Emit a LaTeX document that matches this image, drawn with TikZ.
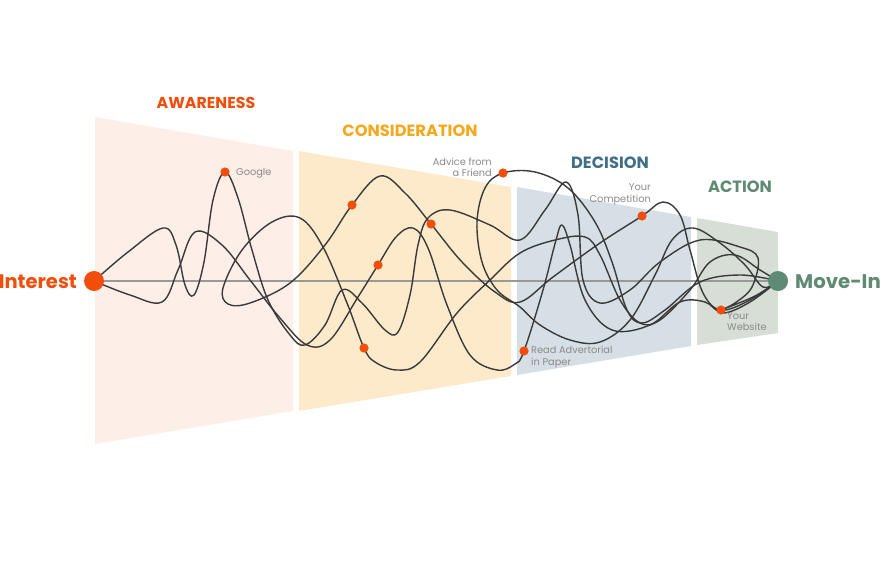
\documentclass[tikz,border=0pt]{standalone}
\usepackage{fontspec}
\setmainfont{Poppins}
\definecolor{orng}{HTML}{F24E0B}
\definecolor{consc}{HTML}{F5A81C}
\definecolor{decc}{HTML}{3E6F86}
\definecolor{actc}{HTML}{5F8A73}
\definecolor{pawa}{HTML}{FDEEE8}
\definecolor{pcon}{HTML}{FCEACB}
\definecolor{pdec}{HTML}{D5DFE5}
\definecolor{pact}{HTML}{D6DED6}
\definecolor{strand}{HTML}{3A3A3A}
\definecolor{lbl}{HTML}{8A8A8A}
\tikzset{
  strandline/.style={draw=strand, line width=1.4pt, line join=round},
  touch/.style={fill=orng},
  header/.style={font=\fontsize{16.3}{17}\selectfont\bfseries, anchor=center},
  small/.style={font=\fontsize{9.8}{11.5}\selectfont, text=lbl, inner sep=0pt, align=left},
}
\begin{document}
\begin{tikzpicture}[x=1pt,y=-1pt]
\useasboundingbox (0,0) rectangle (885,570);
% panels
\fill[pawa] (95,117) -- (293,151) -- (293,411) -- (95,444) -- cycle;
\fill[pcon] (299,151) -- (511,187) -- (511,376) -- (299,411) -- cycle;
\fill[pdec] (517,187) -- (691,217) -- (691,346) -- (517,375) -- cycle;
\fill[pact] (697,218) -- (778,232) -- (778,333) -- (697,345) -- cycle;
% headers
\node[header, text=orng, font=\fontsize{15.8}{17}\selectfont\bfseries] (hawa) at (206,103) {AWARENESS};
\node[header, text=consc] (hcon) at (410,131) {CONSIDERATION};
\node[header, text=decc] (hdec) at (610,163) {DECISION};
\node[header, text=actc] (hact) at (740,187) {ACTION};
% endpoints
\coordinate (int) at (94,281);
\coordinate (mov) at (778,281);
\draw[draw=gray!80, line width=1.4pt] (int) -- (mov);
% touch points
\coordinate (google) at (225,172);
\coordinate (c1) at (352,205);
\coordinate (c2) at (378,265);
\coordinate (c3) at (431,224);
\coordinate (c4) at (364,348);
\coordinate (advice) at (503,173);
\coordinate (comp) at (642,216);
\coordinate (read) at (524,351);
\coordinate (web) at (721,310);
% strands
\draw[strandline] plot[smooth, tension=0.6] coordinates {(int) (128,252) (163,228) (176,245) (185,285) (194,295) (204,262) (213,200) (google) (238,198) (252,250) (268,300) (290,335) (305,345) (325,325) (342,290) (362,303) (385,330) (398,332) (410,295) (418,245) (428,218) (450,210) (490,225) (520,240) (545,210) (566,182) (578,215) (583,280) (600,303) (630,290) (660,262) (700,240) (740,247) (758,258) (752,287) (735,303) (web) (755,296) (mov)};
\draw[strandline] plot[smooth, tension=0.6] coordinates {(int) (130,295) (162,302) (178,270) (195,232) (222,245) (250,280) (280,318) (307,345) (330,340) (358,297) (c2) (396,237) (413,228) (428,248) (447,305) (470,355) (497,370) (515,364) (read) (543,290) (556,240) (562,225) (570,245) (585,300) (612,330) (650,325) (680,302) (705,302) (723,313) (750,302) (mov)};
\draw[strandline] plot[smooth, tension=0.6] coordinates {(mov) (760,270) (735,255) (710,262) (690,290) (660,320) (640,323) (620,300) (600,255) (585,237) (555,240) (520,253) (490,280) (457,313) (420,362) (397,370) (375,362) (c4) (347,303) (323,247) (300,218) (272,222) (242,250) (223,288) (228,304) (250,303) (290,283) (325,245) (c1) (380,176) (405,193) (c3) (462,262) (495,292) (520,302) (553,277) (600,243) (comp) (663,202) (680,215) (690,250) (703,293) (web) (750,300) (mov)};
\draw[strandline] plot[smooth, tension=0.6] coordinates {(mov) (763,287) (745,265) (720,243) (693,228) (672,240) (655,275) (630,320) (600,342) (570,340) (540,325) (520,307) (497,290) (482,262) (477,222) (485,188) (advice) (535,172) (568,188) (595,222) (612,262) (627,310) (642,323) (665,310) (700,282) (740,275) (mov)};
% dots
\foreach \p in {google,c1,c2,c3,c4,advice,comp,read,web} \fill[touch] (\p) circle (4.6);
\fill[orng] (int) circle (10);
\fill[actc] (mov) circle (10);
% labels
\node[font=\fontsize{19.5}{20}\selectfont\bfseries, text=orng, anchor=east, inner sep=0pt] (tint) at (77,282) {Interest};
\node[font=\fontsize{19.7}{20}\selectfont\bfseries, text=actc, anchor=west, inner sep=0pt] (tmov) at (795,282) {Move-In};
\node[small, anchor=west] (lgoogle) at (236,173) {Google};
\node[small, anchor=south east, align=right] (ladvice) at (492,177) {Advice from\\a Friend};
\node[small, anchor=south east, align=right] (lcomp) at (651,205) {Your\\Competition};
\node[small, anchor=north west] (lread) at (531,346) {Read Advertorial\\in Paper};
\node[small, anchor=north west] (lweb) at (727,312) {Your\\Website};
\end{tikzpicture}
\end{document}
